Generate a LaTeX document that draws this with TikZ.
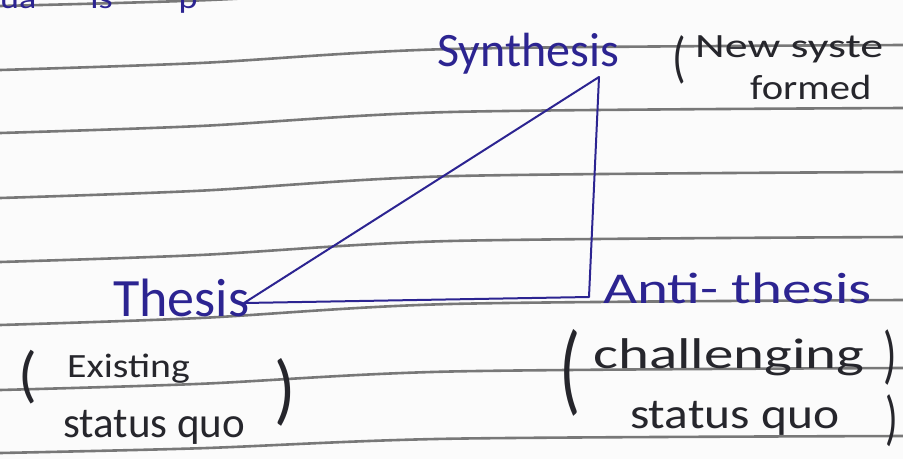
\documentclass[tikz,border=0pt]{standalone}
\usepackage{fontspec}
\usepackage{graphicx}
\setmainfont{Carlito}
\definecolor{ink}{RGB}{44,36,145}
\definecolor{pen}{RGB}{38,38,44}
\definecolor{rulegray}{RGB}{120,120,120}
\definecolor{paper}{RGB}{251,251,251}
\newcommand\handtext[3]{\scalebox{#1}[1]{\fontsize{#2}{#2}\selectfont #3}}
\begin{document}
\begin{tikzpicture}[x=1pt,y=-1pt,
  ruled/.style={draw=rulegray, line width=2.6pt},
  blueword/.style={text=ink, inner sep=0pt, anchor=base west},
  blackword/.style={text=pen, inner sep=0pt, anchor=base west},
  paren/.style={text=pen, inner sep=0pt, anchor=center},
  side/.style={draw=ink, line width=2pt, line join=round}]
\useasboundingbox (0,0) rectangle (903,459);
\clip (0,0) rectangle (903,459);
\fill[paper] (0,0) rectangle (903,459);
% ruled lines of the notebook page
\foreach \L/\d in {6/20, 70/25, 133/25, 198/26, 262/25, 325/25, 390/22, 453/17}{
  \pgfmathsetmacro\ya{\L-0.28*\d}
  \pgfmathsetmacro\yb{\L-0.84*\d}
  \pgfmathsetmacro\yc{\L-\d}
  \draw[ruled] plot[smooth] coordinates {(0,\L) (200,\ya) (450,\yb) (903,\yc)};
}
% fragment of the line above, cut by the top edge
\node[blueword] (frag) at (0,8) {\handtext{1.2}{30}{ua\hspace{45pt}is\hspace{55pt}p}};
% labels
\node[blueword] (syn) at (437,66) {\handtext{1}{48}{Synthesis}};
\node[paren] (p1) at (679,60) {\handtext{0.8}{56}{(}};
\node[blackword] (newsys) at (695,57) {\handtext{1.35}{34}{New syste}};
\node[blackword] (formed) at (750,99) {\handtext{1.16}{35}{formed}};
\node[blueword] (thesis) at (113,316) {\handtext{1}{54}{Thesis}};
\node[blueword] (anti) at (603,303) {\handtext{1.34}{44}{Anti- thesis}};
\node[paren] (p2) at (28,377) {\handtext{1}{62}{(}};
\node[blackword] (exist) at (67,377) {\handtext{1.17}{34}{Existing}};
\node[blackword] (sq1) at (63,437) {\handtext{1}{43}{status quo}};
\node[paren] (p3) at (285,392) {\handtext{0.9}{78}{)}};
\node[paren] (p4) at (570,373) {\handtext{0.7}{100}{(}};
\node[blackword] (chal) at (593,368) {\handtext{1.37}{43}{challenging}};
\node[paren] (p5) at (890,358) {\handtext{0.7}{64}{)}};
\node[blackword] (sq2) at (630,428) {\handtext{1.15}{43}{status quo}};
\node[paren] (p6) at (892,421) {\handtext{0.7}{60}{)}};
% triangle
\coordinate (T) at (244,303);
\coordinate (A) at (589,297);
\coordinate (S) at (599,77);
\draw[side] (T) -- (A) -- (S) -- cycle;
\end{tikzpicture}
\end{document}
